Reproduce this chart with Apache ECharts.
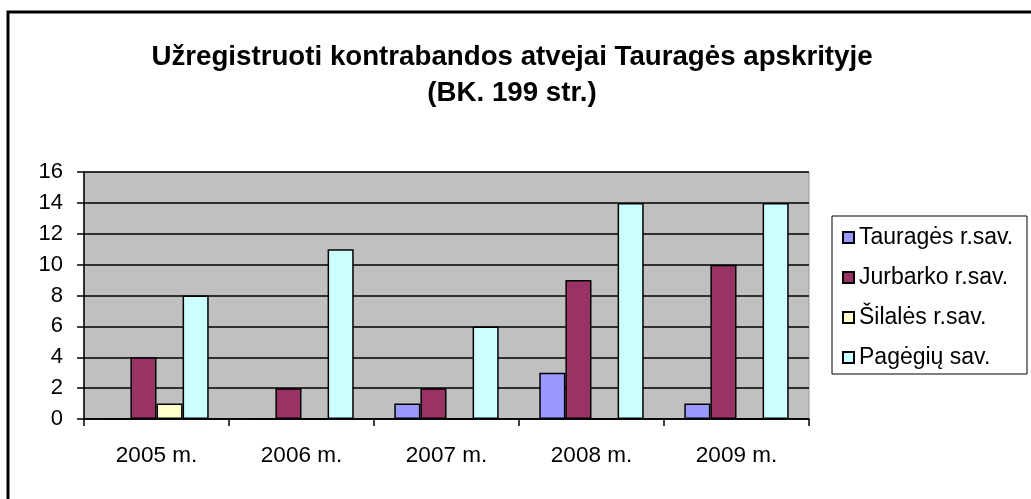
<!DOCTYPE html>
<html>
<head>
<meta charset="utf-8">
<script src="https://cdn.jsdelivr.net/npm/echarts@6/dist/echarts.min.js"></script>
<style>
  html, body { margin: 0; padding: 0; background: #fff; }
  #chart { width: 1031px; height: 499px; }
</style>
</head>
<body>
<div id="chart"></div>
<script>
'use strict';

// 数据
var years = ['2005 m.', '2006 m.', '2007 m.', '2008 m.', '2009 m.'];
var seriesNames = ['Tauragės r.sav.', 'Jurbarko r.sav.', 'Šilalės r.sav.', 'Pagėgių sav.'];
var taurages = [0, 0, 1, 3, 1];
var jurbarko = [4, 2, 2, 9, 10];
var silales = [1, 0, 0, 0, 0];
var pagegiai = [8, 11, 6, 14, 14];
var colors = ['#9999FF', '#993366', '#FFFFCC', '#CCFFFF'];

var font = '"Liberation Sans", Arial, sans-serif';

var chart = echarts.init(document.getElementById('chart'));

function makeSeries(name, data, color) {
    return {
        name: name,
        type: 'bar',
        data: data,
        barGap: 0,
        barCategoryGap: '28%',
        itemStyle: {color: color, borderColor: '#000', borderWidth: 1.5},
        emphasis: {disabled: true},
        animation: false
    };
}

chart.setOption({
    backgroundColor: '#fff',
    animation: false,
    title: {
        text: 'Užregistruoti kontrabandos atvejai Tauragės apskrityje\n(BK. 199 str.)',
        left: 512,
        textAlign: 'center',
        top: 39,
        padding: 0,
        textStyle: {
            fontFamily: font,
            fontWeight: 'bold',
            fontSize: 27.7,
            lineHeight: 36,
            color: '#000'
        }
    },
    graphic: [
        {
            type: 'rect',
            shape: {x: 8, y: 12, width: 1040, height: 500},
            style: {fill: null, stroke: '#000', lineWidth: 3},
            silent: true
        },
        {
            type: 'rect',
            shape: {x: 832, y: 216, width: 195, height: 158},
            style: {fill: '#fff', stroke: '#000', lineWidth: 1},
            silent: true,
            z: 0
        }
    ],
    legend: {
        orient: 'vertical',
        left: 842,
        top: 226,
        padding: 0,
        itemWidth: 11,
        itemHeight: 11,
        itemGap: 17,
        icon: 'rect',
        data: seriesNames,
        selectedMode: false,
        textStyle: {fontFamily: font, fontSize: 23, color: '#000', lineHeight: 22.5},
        z: 5
    },
    grid: {
        left: 84,
        right: 222,
        top: 172,
        bottom: 80,
        show: true,
        backgroundColor: '#C0C0C0',
        borderColor: '#999',
        borderWidth: 1
    },
    xAxis: {
        type: 'category',
        data: years,
        axisLine: {lineStyle: {color: '#000', width: 1.5}},
        axisTick: {show: true, length: 7, lineStyle: {color: '#000', width: 1.5}},
        axisLabel: {fontFamily: font, fontSize: 22.5, color: '#000', margin: 25}
    },
    yAxis: {
        type: 'value',
        min: 0,
        max: 16,
        interval: 2,
        axisLine: {show: true, lineStyle: {color: '#000', width: 1.5}},
        axisTick: {show: true, length: 7, lineStyle: {color: '#000', width: 1.5}},
        axisLabel: {fontFamily: font, fontSize: 22, color: '#000', margin: 21},
        splitLine: {lineStyle: {color: '#000', width: 1.5}}
    },
    series: [
        makeSeries(seriesNames[0], taurages, colors[0]),
        makeSeries(seriesNames[1], jurbarko, colors[1]),
        makeSeries(seriesNames[2], silales, colors[2]),
        makeSeries(seriesNames[3], pagegiai, colors[3])
    ]
});
</script>
</body>
</html>
